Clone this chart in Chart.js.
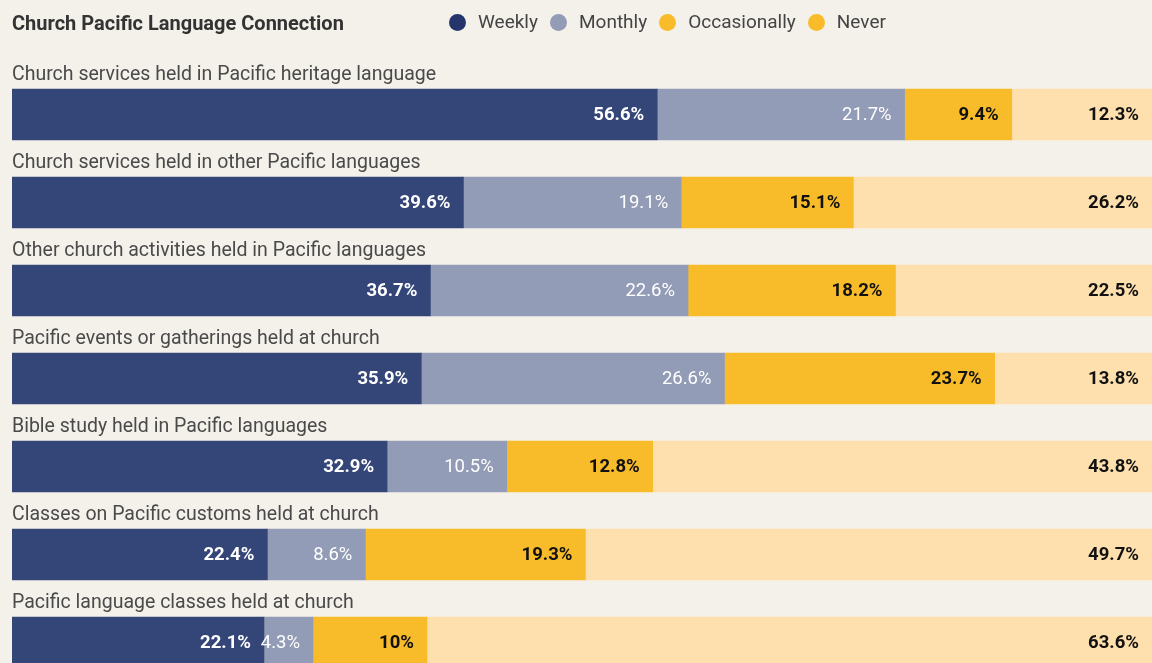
<!DOCTYPE html>
<html>
<head>
<meta charset="utf-8">
<script src="https://cdn.jsdelivr.net/npm/chart.js@4/dist/chart.umd.min.js"></script>
<style>
  html, body { margin:0; padding:0; background:#f4f1ea; overflow:hidden; width:1152px; height:663px; }
  #wrap { position:relative; width:1152px; height:700px; }
  #chart { position:absolute; left:0; top:0; }
  #title { position:absolute; left:12px; top:11px; font:700 20px Roboto, sans-serif; color:#333; line-height:24px; }
  #legend { position:absolute; left:449px; top:10px; display:flex; font:400 19px Roboto, sans-serif; color:#444; line-height:24px; }
  .item { display:flex; align-items:center; margin-right:12px; }
  .dot { width:17px; height:17px; border-radius:50%; margin-right:12px; }
</style>
</head>
<body>
<div id="wrap">
  <canvas id="chart" width="1152" height="700"></canvas>
  <div id="title">Church Pacific Language Connection</div>
  <div id="legend"></div>
</div>
<script>
const categories = [
  "Church services held in Pacific heritage language",
  "Church services held in other Pacific languages",
  "Other church activities held in Pacific languages",
  "Pacific events or gatherings held at church",
  "Bible study held in Pacific languages",
  "Classes on Pacific customs held at church",
  "Pacific language classes held at church"
];
const seriesNames = ["Weekly", "Monthly", "Occasionally", "Never"];
const weekly       = [56.6, 39.6, 36.7, 35.9, 32.9, 22.4, 22.1];
const monthly      = [21.7, 19.1, 22.6, 26.6, 10.5, 8.6, 4.3];
const occasionally = [9.4, 15.1, 18.2, 23.7, 12.8, 19.3, 10];
const never        = [12.3, 26.2, 22.5, 13.8, 43.8, 49.7, 63.6];

const barColors    = ["#344578", "#939cb6", "#f8bc2a", "#fde0ad"];
const legendColors = ["#26346c", "#939cb6", "#f8bc2a", "#f8bc2a"];
const labelColors  = ["#ffffff", "#ffffff", "#111111", "#111111"];
const labelWeights = ["700", "400", "700", "700"];

const seriesValues = [weekly, monthly, occasionally, never];

// legend
const legendEl = document.getElementById('legend');
seriesNames.forEach((n, i) => {
  const it = document.createElement('div'); it.className = 'item';
  const d = document.createElement('span'); d.className = 'dot'; d.style.background = legendColors[i];
  const t = document.createElement('span'); t.textContent = n;
  it.appendChild(d); it.appendChild(t); legendEl.appendChild(it);
});

const labelPlugin = {
  id: 'labels',
  afterDatasetsDraw(chart) {
    const ctx = chart.ctx;
    ctx.save();
    const meta0 = chart.getDatasetMeta(0);
    ctx.font = '400 19.5px Roboto, sans-serif';
    ctx.fillStyle = '#4a4a4a';
    ctx.textAlign = 'left';
    ctx.textBaseline = 'middle';
    meta0.data.forEach((el, i) => {
      ctx.fillText(categories[i], chart.chartArea.left, el.y - 39.5);
    });
    chart.data.datasets.forEach((ds, di) => {
      const meta = chart.getDatasetMeta(di);
      ctx.font = labelWeights[di] + ' 18.5px Roboto, sans-serif';
      ctx.fillStyle = labelColors[di];
      ctx.textAlign = 'right';
      meta.data.forEach((el, i) => {
        const v = ds.data[i];
        ctx.fillText(v + '%', el.x - 13, el.y + 1);
      });
    });
    ctx.restore();
  }
};

new Chart(document.getElementById('chart'), {
  type: 'bar',
  data: {
    labels: categories,
    datasets: seriesNames.map((n, i) => ({
      label: n,
      data: seriesValues[i],
      backgroundColor: barColors[i],
      borderWidth: 0,
      barThickness: 51
    }))
  },
  options: {
    indexAxis: 'y',
    responsive: false,
    animation: false,
    layout: { padding: { left: 12, right: 0, top: 70.5, bottom: 13.5 } },
    plugins: { legend: { display: false }, tooltip: { enabled: false }, title: { display: false } },
    scales: {
      x: { stacked: true, min: 0, max: 100, display: false },
      y: { stacked: true, display: false, offset: true }
    }
  },
  plugins: [labelPlugin]
});
</script>
</body>
</html>
